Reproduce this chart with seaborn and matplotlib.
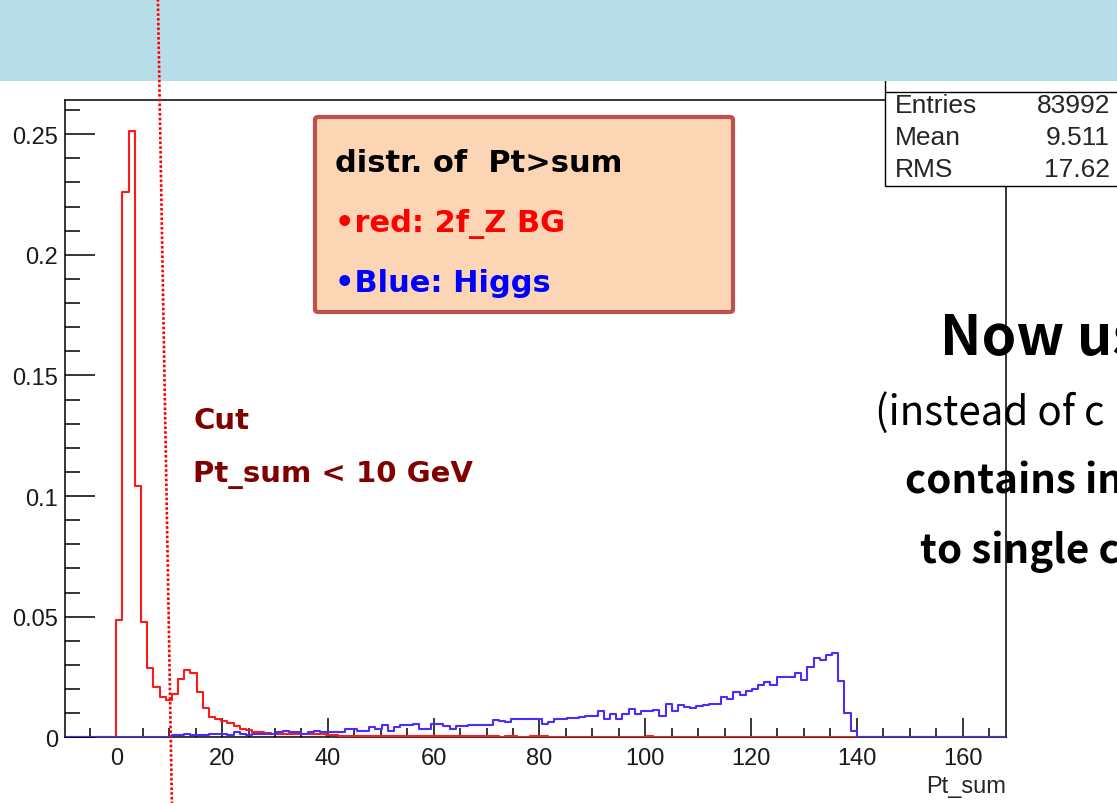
import numpy as np
import pandas as pd
import matplotlib
matplotlib.use("Agg")
import matplotlib.pyplot as plt
from matplotlib.patches import Rectangle, FancyBboxPatch
from matplotlib.lines import Line2D
from matplotlib.ticker import MultipleLocator
import seaborn as sns

# ---------------------------------------------------------------- data
BIN_WIDTH = 7 / 6          # GeV per bin
RED_FIRST_BIN = 0          # bin index of first entry in red_2f_z
BLUE_FIRST_BIN = 9         # bin index of first entry in blue_higgs

# normalised Pt_sum distribution, 2f_Z background
red_2f_z = [
    0.0485, 0.226, 0.2515, 0.104, 0.048, 0.0286, 0.0207, 0.0165, 0.0153, 0.0179,
    0.0240, 0.0280, 0.0267, 0.0186, 0.0122, 0.0086, 0.0075, 0.0068, 0.0058, 0.0047,
    0.0036, 0.0030, 0.0024, 0.0020, 0.0017, 0.0015, 0.0013, 0.0015, 0.0013, 0.0012,
    0.0013, 0.0014, 0.0012, 0.0013, 0.0010, 0.0008, 0.0006, 0.0005, 0.0006, 0.0005,
    0.0005, 0.0006, 0.0005, 0.0005, 0.0004, 0.0005, 0.0006, 0.0005, 0.0005, 0.0004,
    0.0005, 0.0005, 0.0004, 0.0005, 0.0004, 0.0005, 0.0004, 0.0004, 0.0005, 0.0004,
    0.0004, 0.0004, 0.0, 0.0004, 0.0004, 0.0, 0.0, 0.0004, 0.0004, 0.0004,
    0.0, 0.0, 0.0, 0.0, 0.0, 0.0, 0.0, 0.0, 0.0, 0.0,
    0.0, 0.0, 0.0, 0.0, 0.0, 0.0, 0.0004,
]

# normalised Pt_sum distribution, Higgs signal
blue_higgs = [
    0.0008, 0.0008, 0.0015, 0.0008, 0.0008, 0.0008, 0.0015, 0.0015, 0.0015, 0.0008,
    0.0020, 0.0012, 0.0008, 0.0015, 0.0015, 0.0015, 0.0015, 0.0020, 0.0026, 0.0020,
    0.0020, 0.0015, 0.0020, 0.0028, 0.0020, 0.0020, 0.0022, 0.0022, 0.0035, 0.0035,
    0.0028, 0.0028, 0.0042, 0.0035, 0.0049, 0.0028, 0.0042, 0.0049, 0.0049, 0.0056,
    0.0035, 0.0035, 0.0056, 0.0056, 0.0046, 0.0035, 0.0046, 0.0046, 0.0051, 0.0051,
    0.0051, 0.0051, 0.0072, 0.0069, 0.0063, 0.0076, 0.0076, 0.0076, 0.0076, 0.0076,
    0.0056, 0.0065, 0.0076, 0.0076, 0.0080, 0.0080, 0.0083, 0.0088, 0.0090, 0.0110,
    0.0076, 0.0097, 0.0076, 0.0097, 0.0118, 0.0097, 0.0107, 0.0110, 0.0114, 0.0090,
    0.0140, 0.0107, 0.0132, 0.0125, 0.0121, 0.0128, 0.0135, 0.0139, 0.0139, 0.0167,
    0.0160, 0.0188, 0.0174, 0.0194, 0.0201, 0.0215, 0.0229, 0.0215, 0.0250, 0.0250,
    0.0250, 0.0268, 0.0236, 0.0292, 0.0329, 0.0322, 0.0343, 0.0351, 0.0232, 0.0101,
    0.0028,
]

x_ticks = [0, 20, 40, 60, 80, 100, 120, 140, 160]
y_ticks = [0, 0.05, 0.1, 0.15, 0.2, 0.25]
y_tick_labels = ["0", "0.05", "0.1", "0.15", "0.2", "0.25"]
x_label = "Pt_sum"

stat_names = ["Entries", "Mean", "RMS"]
stat_values = ["83992", "9.511", "17.62"]

box_lines = ["distr. of  Pt>sum", "•red: 2f_Z BG", "•Blue: Higgs"]
cut_lines = ["Cut", "Pt_sum < 10 GeV"]
side_lines = ["Now us", "(instead of c", "contains in", "to single c"]

# ---------------------------------------------------------------- style
W, H = 1117, 804
RED = "#ff1a1a"
BLUE = "#4a2cff"
DARK_RED = "#800000"
BANNER = "#b7dee8"
PEACH = "#fcd5b5"
PEACH_EDGE = "#c0504d"

sns.set_style("white")
plt.rcParams["font.family"] = ["Liberation Sans", "DejaVu Sans"]
JP = ["Noto Sans CJK JP", "DejaVu Sans"]
NOTE = ["DejaVu Sans"]


def fx(px):
    return px / W


def fy(py):
    return 1 - py / H


# ---------------------------------------------------------------- histograms
first_edge, last_edge = -9, 145
edges = np.arange(first_edge, last_edge + 1) * BIN_WIDTH
centers = edges[:-1] + BIN_WIDTH / 2
n_bins = len(centers)

red_full = np.zeros(n_bins)
start = RED_FIRST_BIN - first_edge
red_full[start:start + len(red_2f_z)] = red_2f_z
blue_full = np.zeros(n_bins)
start = BLUE_FIRST_BIN - first_edge
blue_full[start:start + len(blue_higgs)] = blue_higgs

df = pd.DataFrame({
    "pt_sum": np.concatenate([centers, centers]),
    "frac": np.concatenate([red_full, blue_full]),
    "sample": ["2f_Z"] * n_bins + ["Higgs"] * n_bins,
})

fig = plt.figure(figsize=(W / 100, H / 100), dpi=100)
ax = fig.add_axes([fx(65), fy(738.3), (1006 - 65) / W, (738.3 - 101) / H])

bin_list = [float(e) for e in edges]
sns.histplot(data=df[df["sample"] == "2f_Z"], x="pt_sum", weights="frac",
             bins=bin_list, element="step", fill=False, color=RED,
             linewidth=1.5, zorder=3, ax=ax)
sns.histplot(data=df[df["sample"] == "Higgs"], x="pt_sum", weights="frac",
             bins=bin_list, element="step", fill=False, color=BLUE,
             linewidth=1.5, zorder=3.1, ax=ax)

ax.set_xlim(-9.7, 168.2)
ax.set_ylim(0, 0.2642)
ax.set_xticks(x_ticks)
ax.set_xticklabels([str(t) for t in x_ticks])
ax.set_yticks(y_ticks)
ax.set_yticklabels(y_tick_labels)
ax.xaxis.set_minor_locator(MultipleLocator(5))
ax.yaxis.set_minor_locator(MultipleLocator(0.01))
ax.set_ylabel("")
ax.set_xlabel(x_label, loc="right", fontsize=17, labelpad=4)

for sp in ax.spines.values():
    sp.set_color("black")
    sp.set_linewidth(1.1)
    sp.set_visible(True)

ax.tick_params(axis="both", which="both", direction="in", color="black",
               width=1.1, labelsize=17, labelcolor="#1a1a1a",
               bottom=True, left=True, top=False, right=False)
ax.tick_params(axis="y", which="major", length=21.6, pad=5)
ax.tick_params(axis="y", which="minor", length=10.8)
ax.tick_params(axis="x", which="major", length=13.7, pad=7)
ax.tick_params(axis="x", which="minor", length=6.8)

# ---------------------------------------------------------------- statistics box
fig.add_artist(Rectangle((fx(885), fy(187.3)), (1130 - 885) / W, (187.3 - 40) / H,
                         transform=fig.transFigure, facecolor="white",
                         edgecolor="black", linewidth=1.0, zorder=2))
fig.add_artist(Line2D([fx(885), fx(1130)], [fy(93.3), fy(93.3)],
                      transform=fig.transFigure, color="black", linewidth=1.0, zorder=2.1))
for i, (name, val) in enumerate(zip(stat_names, stat_values)):
    yb = 113.3 + 31.7 * i
    fig.text(fx(895), fy(yb), name, fontsize=19, va="baseline", ha="left", zorder=2.2)
    fig.text(fx(1110), fy(yb), val, fontsize=19, va="baseline", ha="right", zorder=2.2)

# ---------------------------------------------------------------- slide title banner
fig.add_artist(Rectangle((0, fy(82)), 1, 82 / H, transform=fig.transFigure,
                         facecolor=BANNER, edgecolor="none", zorder=3))

# ---------------------------------------------------------------- legend note box
fig.add_artist(FancyBboxPatch((fx(315), fy(313)), (733 - 315) / W, (313 - 118) / H,
                              boxstyle="round,pad=0,rounding_size=0.003",
                              transform=fig.transFigure, facecolor=PEACH,
                              edgecolor=PEACH_EDGE, linewidth=3.0, zorder=2))
box_colors = ["black", "#ff0000", "#0000ff"]
box_baselines = [171.7, 231.7, 292.0]
for txt, col, yb in zip(box_lines, box_colors, box_baselines):
    fig.text(fx(335), fy(yb), txt, color=col, fontsize=22, fontweight="bold",
             family=NOTE, va="baseline", ha="left", zorder=2.5)

# ---------------------------------------------------------------- cut annotation
fig.add_artist(Line2D([fx(157.9), fx(171.9)], [fy(0), fy(804)],
                      transform=fig.transFigure, color="#ff0000", linewidth=1.9,
                      linestyle=(0, (1, 0.8)), zorder=4))
for txt, yb in zip(cut_lines, [429.3, 481.7]):
    fig.text(fx(193), fy(yb), txt, color=DARK_RED, fontsize=21, fontweight="bold",
             family=NOTE, va="baseline", ha="left", zorder=5)

# ---------------------------------------------------------------- side text
side_x = [940, 875, 905, 920]
side_y = [355, 425, 493.3, 563.3]
side_size = [40, 29, 29, 29]
side_weight = ["bold", "normal", "bold", "bold"]
for txt, x0, yb, fs, fw in zip(side_lines, side_x, side_y, side_size, side_weight):
    fig.text(fx(x0), fy(yb), txt, color="black", fontsize=fs, fontweight=fw,
             family=JP, va="baseline", ha="left", zorder=5)

fig.savefig("out.png", dpi=100)
